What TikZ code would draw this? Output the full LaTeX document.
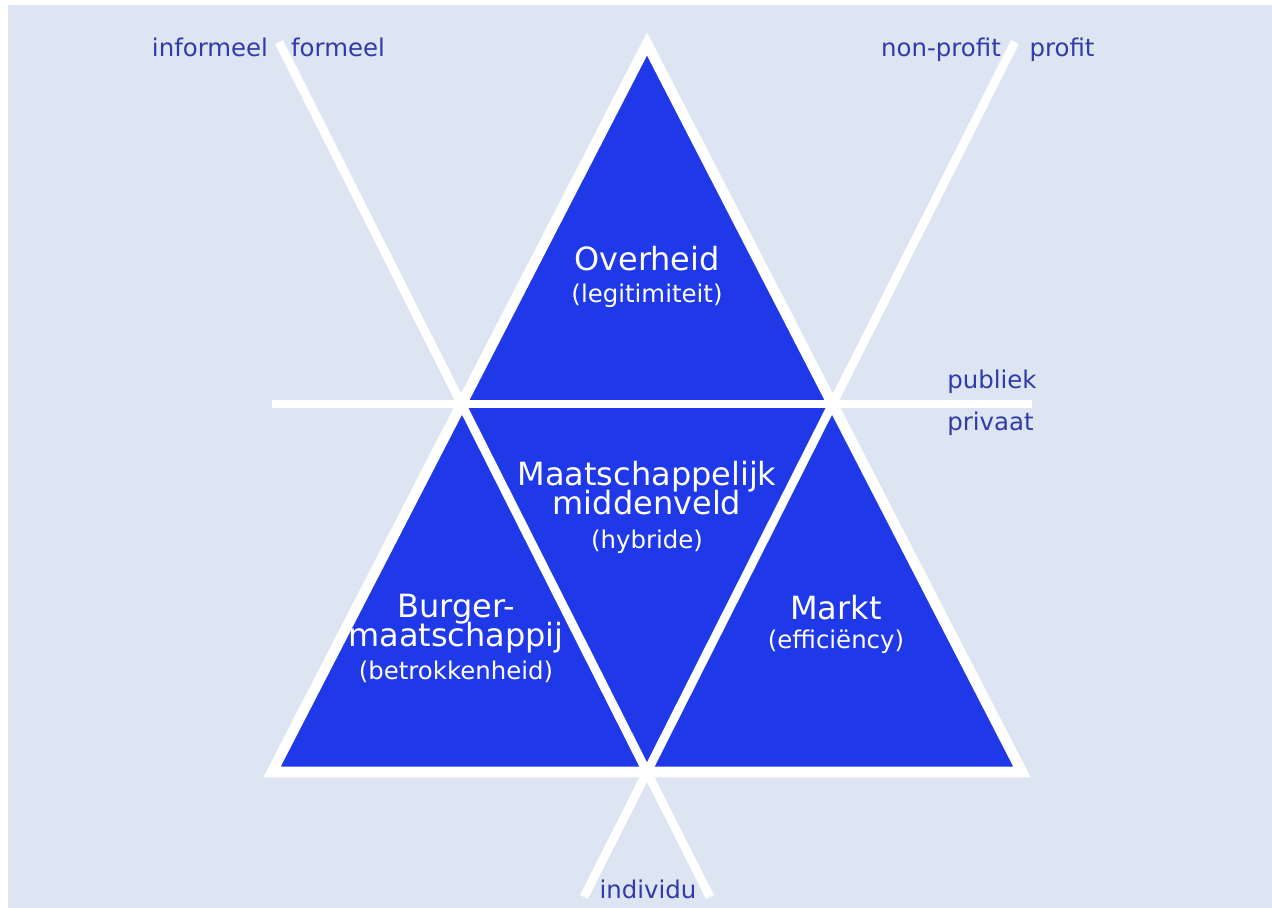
\documentclass[tikz,border=0pt]{standalone}
\usepackage{fontspec}
\setmainfont{DejaVu Sans}
\usepackage{xcolor}
\usepackage{tikz}
\usetikzlibrary{positioning}

\definecolor{paneel}{RGB}{220,229,241}
\definecolor{vlak}{RGB}{31,56,232}
\definecolor{tekstblauw}{RGB}{48,58,168}
\newcommand{\subtxt}{\fontsize{13.9}{15}\selectfont}
\newcommand{\titeltxt}{\fontsize{18.2}{16.4}\selectfont\lineskiplimit=-20pt\relax}

\begin{document}
\begin{tikzpicture}[
    x=0.02cm, y=-0.02cm,
    every node/.style={inner sep=0pt},
    sector/.style={align=center, text=white, anchor=base, font=\titeltxt},
    axis_l/.style={text=tekstblauw, anchor=base, font=\subtxt},
    strip/.style={draw=white, line width=5pt},
    rim/.style={draw=white, line width=6pt, line join=miter},
]
\useasboundingbox (0,0) rectangle (1272,908);
\fill[white] (0,0) rectangle (1272,908);
\fill[paneel] (8,5) rectangle (1272,908);

% Corners of the big triangle
\coordinate (apex) at (647,44);
\coordinate (bl) at (272,772);
\coordinate (br) at (1022,772);
\coordinate (bm) at (647,772);
\coordinate (ml) at (461.6,404);
\coordinate (mr) at (832.4,404);

% Free ends of the axes
\coordinate (ltop) at (279,42);
\coordinate (rtop) at (1015,42);
\coordinate (lbot) at (584,897);
\coordinate (rbot) at (710,897);
\coordinate (hleft) at (272,404);
\coordinate (hright) at (1032,404);

% Sectors
\fill[vlak] (apex) -- (bl) -- (br) -- cycle;

% Axes
\draw[strip] (hleft) -- (hright);
\draw[strip] (ltop) -- (rbot);
\draw[strip] (rtop) -- (lbot);
\draw[rim] (apex) -- (bl) -- (br) -- cycle;

% Sector texts (base = last line)
\node[sector] (overheid) at (647,303) {Overheid\\[2pt]{\subtxt (legitimiteit)}};
\node[sector] (midden) at (647,549) {Maatschappelijk\\middenveld\\[3.3pt]{\subtxt (hybride)}};
\node[sector] (burger) at (456,680) {Burger-\\[0pt]maatschappij\\[2.9pt]{\subtxt (betrokkenheid)}};
\node[sector] (markt) at (836,649) {Markt\\[0.6pt]{\subtxt (efficiëncy)}};

% Axis labels
\node[axis_l] (informeel) at (210,57) {informeel};
\node[axis_l] (formeel) at (338,57) {formeel};
\node[axis_l] (nonprofit) at (941,57) {non-profit};
\node[axis_l] (profit) at (1062,57) {profit};
\node[axis_l, anchor=base west] (publiek) at (947,389) {publiek};
\node[axis_l, anchor=base west] (privaat) at (947,431) {privaat};
\node[axis_l] (individu) at (648,898) {individu};

\end{tikzpicture}
\end{document}
